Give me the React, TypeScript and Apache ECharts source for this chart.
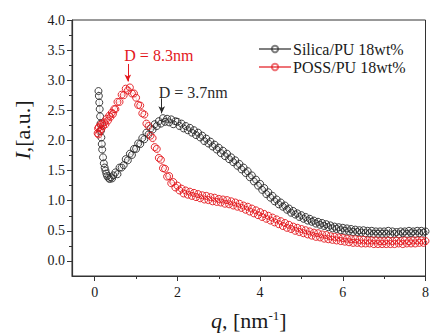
import React, { useEffect, useRef } from 'react';
import * as echarts from 'echarts';

const seriesNames = ['Silica/PU 18wt%', 'POSS/PU 18wt%'];

const qHeadSilica = [0.09, 0.10, 0.11, 0.12, 0.13, 0.14, 0.15, 0.16, 0.17, 0.18, 0.20, 0.22, 0.24, 0.26, 0.28, 0.30, 0.33, 0.36, 0.39, 0.42, 0.45];
const iHeadSilica = [2.82, 2.74, 2.63, 2.52, 2.40, 2.28, 2.16, 2.05, 1.94, 1.85, 1.72, 1.62, 1.55, 1.50, 1.45, 1.41, 1.38, 1.36, 1.39, 1.37, 1.42];

const qHeadPoss = [0.07, 0.08, 0.09, 0.10, 0.12, 0.14, 0.16, 0.18, 0.20, 0.23, 0.26, 0.29, 0.32, 0.35, 0.38, 0.41, 0.44, 0.47];
const iHeadPoss = [2.12, 2.20, 2.10, 2.22, 2.15, 2.26, 2.19, 2.28, 2.24, 2.30, 2.27, 2.36, 2.33, 2.41, 2.39, 2.46, 2.44, 2.52];

const qGrid = [
  0.50, 0.55, 0.60, 0.65, 0.70, 0.75, 0.80, 0.85, 0.90, 0.95,
  1.00, 1.05, 1.10, 1.15, 1.20, 1.25, 1.30, 1.35, 1.40, 1.45,
  1.50, 1.55, 1.60, 1.65, 1.70, 1.75, 1.80, 1.85, 1.90, 1.95,
  2.00, 2.05, 2.10, 2.15, 2.20, 2.25, 2.30, 2.35, 2.40, 2.45,
  2.50, 2.55, 2.60, 2.65, 2.70, 2.75, 2.80, 2.85, 2.90, 2.95,
  3.00, 3.05, 3.10, 3.15, 3.20, 3.25, 3.30, 3.35, 3.40, 3.45,
  3.50, 3.55, 3.60, 3.65, 3.70, 3.75, 3.80, 3.85, 3.90, 3.95,
  4.00, 4.05, 4.10, 4.15, 4.20, 4.25, 4.30, 4.35, 4.40, 4.45,
  4.50, 4.55, 4.60, 4.65, 4.70, 4.75, 4.80, 4.85, 4.90, 4.95,
  5.00, 5.05, 5.10, 5.15, 5.20, 5.25, 5.30, 5.35, 5.40, 5.45,
  5.50, 5.55, 5.60, 5.65, 5.70, 5.75, 5.80, 5.85, 5.90, 5.95,
  6.00, 6.05, 6.10, 6.15, 6.20, 6.25, 6.30, 6.35, 6.40, 6.45,
  6.50, 6.55, 6.60, 6.65, 6.70, 6.75, 6.80, 6.85, 6.90, 6.95,
  7.00, 7.05, 7.10, 7.15, 7.20, 7.25, 7.30, 7.35, 7.40, 7.45,
  7.50, 7.55, 7.60, 7.65, 7.70, 7.75, 7.80, 7.85, 7.90, 7.95,
  8.00,
];

const iSilica = [
  1.47, 1.44, 1.55, 1.55, 1.59, 1.69, 1.67, 1.78, 1.76, 1.86,
  1.86, 1.95, 1.94, 2.04, 2.02, 2.13, 2.10, 2.20, 2.18, 2.27,
  2.24, 2.32, 2.28, 2.37, 2.31, 2.36, 2.30, 2.35, 2.27, 2.32,
  2.31, 2.24, 2.28, 2.20, 2.24, 2.17, 2.21, 2.13, 2.17, 2.09,
  2.13, 2.05, 2.08, 1.99, 2.03, 1.95, 1.98, 1.90, 1.93, 1.85,
  1.88, 1.79, 1.83, 1.74, 1.78, 1.69, 1.72, 1.64, 1.67, 1.58,
  1.61, 1.52, 1.55, 1.46, 1.49, 1.39, 1.42, 1.32, 1.35, 1.25,
  1.28, 1.18, 1.21, 1.11, 1.14, 1.05, 1.08, 0.99, 1.02, 0.94,
  0.97, 0.90, 0.92, 0.85, 0.87, 0.80, 0.83, 0.77, 0.79, 0.73,
  0.76, 0.70, 0.73, 0.67, 0.70, 0.65, 0.67, 0.62, 0.65, 0.60,
  0.63, 0.58, 0.61, 0.56, 0.59, 0.54, 0.57, 0.53, 0.56, 0.51,
  0.55, 0.50, 0.54, 0.49, 0.53, 0.48, 0.52, 0.48, 0.51, 0.47,
  0.51, 0.46, 0.50, 0.46, 0.50, 0.45, 0.49, 0.45, 0.49, 0.45,
  0.49, 0.45, 0.50, 0.44, 0.49, 0.45, 0.48, 0.44, 0.49, 0.46,
  0.49, 0.45, 0.50, 0.46, 0.49, 0.45, 0.50, 0.46, 0.50, 0.47,
  0.49,
];

const iPoss = [
  2.52, 2.64, 2.64, 2.76, 2.75, 2.86, 2.83, 2.88, 2.78, 2.78,
  2.71, 2.59, 2.58, 2.45, 2.43, 2.28, 2.24, 2.08, 2.04, 1.89,
  1.86, 1.71, 1.68, 1.54, 1.53, 1.40, 1.41, 1.29, 1.31, 1.22,
  1.25, 1.17, 1.20, 1.12, 1.17, 1.10, 1.15, 1.08, 1.13, 1.06,
  1.11, 1.04, 1.09, 1.02, 1.08, 1.01, 1.06, 0.99, 1.05, 0.98,
  1.03, 0.97, 1.02, 0.95, 1.01, 0.94, 0.99, 0.92, 0.97, 0.90,
  0.95, 0.88, 0.92, 0.85, 0.90, 0.82, 0.87, 0.79, 0.84, 0.76,
  0.81, 0.73, 0.78, 0.70, 0.75, 0.67, 0.72, 0.64, 0.69, 0.61,
  0.66, 0.58, 0.63, 0.55, 0.60, 0.53, 0.57, 0.50, 0.55, 0.48,
  0.53, 0.46, 0.51, 0.44, 0.49, 0.42, 0.47, 0.40, 0.46, 0.39,
  0.44, 0.37, 0.43, 0.36, 0.41, 0.35, 0.40, 0.34, 0.39, 0.33,
  0.38, 0.32, 0.37, 0.31, 0.36, 0.30, 0.36, 0.30, 0.35, 0.29,
  0.35, 0.29, 0.34, 0.29, 0.34, 0.28, 0.34, 0.28, 0.33, 0.28,
  0.33, 0.28, 0.34, 0.28, 0.33, 0.28, 0.34, 0.29, 0.33, 0.28,
  0.34, 0.29, 0.33, 0.29, 0.34, 0.29, 0.34, 0.30, 0.34, 0.30,
  0.33,
];

const xMajorTicks = [0, 2, 4, 6, 8];
const xMinorTicks = [1, 3, 5, 7];
const yMajorTicks = [0, 0.5, 1.0, 1.5, 2.0, 2.5, 3.0, 3.5, 4.0];
const yMinorTicks = [0.25, 0.75, 1.25, 1.75, 2.25, 2.75, 3.25, 3.75];

// annotation text anchors and arrows in data coordinates
const possLabel = { text: 'D = 8.3nm', q: 1.55, i: 3.41 };
const possArrow = { q: 0.8, from: 3.27, to: 2.98 };
const silicaLabel = { text: 'D = 3.7nm', q: 2.38, i: 2.8 };
const silicaArrow = { q: 1.62, from: 2.7, to: 2.45 };

const SERIF = 'Liberation Serif';
const BLACK = '#2a2a2a';
const RED = '#e3161c';
const TEXT = '#1a1a1a';

const serif = (size: number, color: string, extra: any = {}) => ({
  fontFamily: SERIF,
  fontSize: size,
  color,
  ...extra,
});

export default function App() {
  const ref = useRef<HTMLDivElement>(null);

  useEffect(() => {
    if (!ref.current) return;
    const chart = echarts.init(ref.current, undefined, { renderer: 'svg' });

    const silicaData = [
      ...qHeadSilica.map((q, k) => [q, iHeadSilica[k]]),
      ...qGrid.map((q, k) => [q, iSilica[k]]),
    ];
    const possData = [
      ...qHeadPoss.map((q, k) => [q, iHeadPoss[k]]),
      ...qGrid.map((q, k) => [q, iPoss[k]]),
    ];

    const makeSeries = (name: string, data: number[][], color: string, label: any, arrow: any) => ({
      name,
      type: 'line',
      data,
      xAxisIndex: 0,
      yAxisIndex: 0,
      symbol: 'circle',
      symbolSize: 7,
      showAllSymbol: true,
      lineStyle: { color, width: 0.5, opacity: 0.35 },
      itemStyle: { color: 'rgba(255,255,255,0)', borderColor: color, borderWidth: 0.9 },
      emphasis: { disabled: true },
      markPoint: {
        silent: true,
        symbol: 'circle',
        symbolSize: 1,
        itemStyle: { color: 'rgba(0,0,0,0)', borderWidth: 0 },
        label: {
          show: true,
          position: 'inside',
          formatter: label.text,
          ...serif(16, color),
        },
        data: [{ coord: [label.q, label.i] }],
      },
      markLine: {
        silent: true,
        symbol: ['none', 'arrow'],
        symbolSize: [5, 7],
        label: { show: false },
        lineStyle: { color, width: 1, type: 'solid' },
        data: [[{ coord: [arrow.q, arrow.from] }, { coord: [arrow.q, arrow.to] }]],
      },
    });

    const axisColor = '#333';

    chart.setOption({
      animation: false,
      backgroundColor: '#fff',
      textStyle: { fontFamily: SERIF },
      grid: {
        left: 72,
        right: 1,
        top: 20,
        bottom: 51,
        show: true,
        borderColor: axisColor,
        borderWidth: 1,
        backgroundColor: 'transparent',
      },
      legend: {
        orient: 'vertical',
        left: 253,
        top: 36,
        itemGap: 2,
        itemWidth: 32,
        itemHeight: 8,
        data: seriesNames,
        textStyle: { ...serif(16, TEXT), padding: [0, 0, 0, -3] },
        itemStyle: { opacity: 0.6 },
        lineStyle: { opacity: 0.6 },
        selectedMode: false,
      },
      xAxis: [
        {
          type: 'value',
          min: -0.55,
          max: 8,
          position: 'bottom',
          name: '{i|q}, [nm{sup|-1}]',
          nameLocation: 'middle',
          nameGap: 33,
          nameTextStyle: {
            ...serif(22, TEXT),
            rich: {
              i: serif(22, TEXT, { fontStyle: 'italic' }),
              sup: serif(13, TEXT, { verticalAlign: 'top', padding: [0, 0, 8, 0] }),
            },
          },
          splitLine: { show: false },
          axisLine: { show: true, onZero: false, lineStyle: { color: axisColor, width: 1.2 } },
          axisTick: { show: true, length: 5, customValues: xMajorTicks, lineStyle: { color: axisColor } },
          axisLabel: {
            ...serif(14, TEXT),
            margin: 9,
            customValues: xMajorTicks,
            formatter: (v: number) => String(v),
          },
        },
        {
          type: 'value',
          min: -0.55,
          max: 8,
          position: 'bottom',
          offset: 0,
          splitLine: { show: false },
          axisLine: { show: false, onZero: false },
          axisTick: { show: true, length: 3, customValues: xMinorTicks, lineStyle: { color: axisColor } },
          axisLabel: { show: false },
        },
      ],
      yAxis: [
        {
          type: 'value',
          min: -0.25,
          max: 4,
          position: 'left',
          name: '{i|I},[a.u.]',
          nameLocation: 'middle',
          nameRotate: 90,
          nameGap: 39,
          nameTextStyle: {
            ...serif(22, TEXT),
            padding: [0, 0, 0, 36],
            rich: {
              i: serif(22, TEXT, { fontStyle: 'italic' }),
            },
          },
          splitLine: { show: false },
          axisLine: { show: true, onZero: false, lineStyle: { color: axisColor, width: 1.2 } },
          axisTick: { show: true, length: 5, customValues: yMajorTicks, lineStyle: { color: axisColor } },
          axisLabel: {
            ...serif(14, TEXT),
            margin: 7,
            customValues: yMajorTicks,
            formatter: (v: number) => v.toFixed(1),
          },
        },
        {
          type: 'value',
          min: -0.25,
          max: 4,
          position: 'left',
          offset: 0,
          splitLine: { show: false },
          axisLine: { show: false, onZero: false },
          axisTick: { show: true, length: 3, customValues: yMinorTicks, lineStyle: { color: axisColor } },
          axisLabel: { show: false },
        },
      ],
      series: [
        makeSeries(seriesNames[0], silicaData, BLACK, silicaLabel, silicaArrow),
        makeSeries(seriesNames[1], possData, RED, possLabel, possArrow),
      ],
    });

    return () => chart.dispose();
  }, []);

  return (
    <div
      ref={ref}
      style={{ position: 'fixed', left: 0, top: 0, width: 432, height: 336, background: '#fff' }}
    />
  );
}
